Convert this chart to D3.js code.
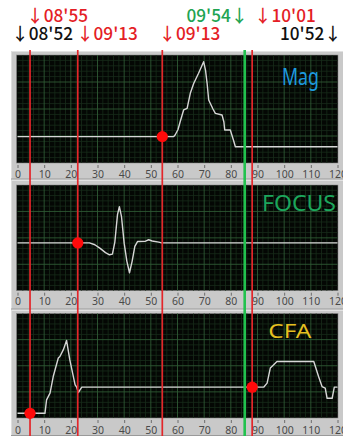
<!DOCTYPE html>
<html>
<head>
<meta charset="utf-8">
<script src="https://cdn.jsdelivr.net/npm/d3@7"></script>
<style>
  html, body { margin: 0; padding: 0; background: #ffffff; }
  svg { display: block; }
</style>
</head>
<body>
<svg id="chart" width="343" height="436"></svg>
<script>
// Time axis shared by all three strips
const xTicks = [0, 10, 20, 30, 40, 50, 60, 70, 80, 90, 100, 110, 120];

// Signal traces: [time, level] with level on a 0–100 strip scale
const magData = [
  [0, 24.4], [58.5, 24.4], [59.1, 25.9], [60.2, 31], [61.0, 38.2], [62.3, 49.1], [63.6, 50.6],
  [64.8, 64.5], [66.1, 73.8], [67.9, 83.1], [69.8, 93.8], [70.5, 86], [71.1, 73.8],
  [71.7, 58.3], [73.3, 50], [74.2, 46.0], [76.7, 44.4], [77.4, 38], [77.7, 30.6],
  [79.8, 30.6], [81.0, 21], [81.7, 15.1], [120, 15.1]
];
const focusData = [
  [0, 45.2], [27, 45.2], [29, 43.5], [31, 40], [33, 36], [34.5, 34], [35.6, 34.6],
  [36.5, 46], [37.5, 72], [38.2, 79.5], [39, 70], [40, 45], [41, 28], [42, 17],
  [43, 28], [44, 42], [45, 46.5], [48, 46.8], [49.2, 48.2], [50.5, 47], [53, 46],
  [54, 45.2], [120, 45.2]
];
const cfaData = [
  [0, 4.5], [10.3, 4.5], [10.9, 17.3], [12.2, 23.8], [13.4, 39.7], [15.3, 57.4],
  [15.9, 58.9], [17.2, 65.4], [18.4, 74.3], [19.6, 55.8], [21.6, 31.7], [22.2, 29.5],
  [22.8, 24.3], [24.1, 29.5], [92.3, 29.5], [93.6, 33.4], [94.8, 47.8], [95.4, 49.3],
  [97.3, 54.1], [111.1, 54.1], [112.9, 39.7], [114.2, 30.1], [115.4, 28.6],
  [116.1, 18.9], [118, 18.9], [118.8, 29.5], [120, 29.5]
];

// Strip titles
const stripNames = ["Mag", "FOCUS", "CFA"];

// Event points marked on the traces: [strip index, time, level]
const eventDots = [[0, 54.3, 24.4], [1, 22.6, 45.2], [2, 4.7, 4.5], [2, 88, 29.5]];

// Event cursors across all strips
const redCursors = [4.7, 22.6, 54.3, 88];
const greenCursors = [85.2];

// Time stamps above the strips: text, time the arrow points at, row
const stampTexts = ["↓08'55", "↓08'52", "↓09'13", "↓09'13", "09'54↓", "↓10'01", "10'52↓"];
const stampAt =    [4.7,      -0.9,     23.4,     54.3,     85.1,     90.1,     120.2];
const stampRow =   [0,        1,        1,        1,        0,        0,        1];
const stampKind =  ["red",    "black",  "red",    "red",    "green",  "red",    "black"];

// ---- layout & styling ----
const W = 343, H = 436;
const plotL = 17.5, plotR = 337.5;
const strips = [
  { boxTop: 51,  boxBottom: 179.5, top: 55,    bottom: 163,   labelY: 178.3, color: "#1d9ade", tw: 37, fs: 24, ty: 85,    tx: 319 },
  { boxTop: 180, boxBottom: 309.5, top: 185,   bottom: 290.7, labelY: 305.5, color: "#1ca65c", tw: 74, fs: 22, ty: 210.5, tx: 336 },
  { boxTop: 310, boxBottom: 436,   top: 313.5, bottom: 418,   labelY: 433.5, color: "#e6c020", tw: 43, fs: 20, ty: 338.3, tx: 311.3 }
];
const colors = { red: "#e41e26", green: "#21a452", black: "#111111" };

const svg = d3.select("#chart");
const x = d3.scaleLinear().domain([0, 120]).range([plotL, plotR]);

const series = [magData, focusData, cfaData];

strips.forEach((s, i) => {
  const y = d3.scaleLinear().domain([0, 100]).range([s.bottom, s.top]);
  s.y = y;
  const g = svg.append("g");

  // gray panel
  g.append("rect")
    .attr("x", 11).attr("y", s.boxTop)
    .attr("width", W - 11).attr("height", s.boxBottom - s.boxTop)
    .attr("fill", "#c9c9c9");
  g.append("line")
    .attr("x1", 11).attr("x2", W).attr("y1", s.boxTop + 0.5).attr("y2", s.boxTop + 0.5)
    .attr("stroke", "#e2e2e2");
  g.append("line")
    .attr("x1", 11.5).attr("x2", 11.5).attr("y1", s.boxTop).attr("y2", s.boxBottom)
    .attr("stroke", "#dedede");
  g.append("line")
    .attr("x1", 11).attr("x2", W).attr("y1", s.boxBottom - 0.5).attr("y2", s.boxBottom - 0.5)
    .attr("stroke", "#9a9a9a");

  // plot area
  g.append("rect")
    .attr("x", x(0) - 1).attr("y", s.top)
    .attr("width", x(120) - x(0) + 1.5).attr("height", s.bottom - s.top)
    .attr("fill", "#040704")
    .attr("stroke", "#8a8a8a").attr("stroke-width", 0.6);

  // minor grid
  const grid = g.append("g");
  grid.selectAll(".vmin").data(d3.range(2, 120, 2).filter(v => v % 10 !== 0))
    .join("line")
    .attr("x1", d => x(d)).attr("x2", d => x(d))
    .attr("y1", s.top).attr("y2", s.bottom)
    .attr("stroke", "#182c1b").attr("stroke-width", 0.8);
  grid.selectAll(".hmin").data(d3.range(5, 100, 5).filter(v => v % 25 !== 0))
    .join("line")
    .attr("x1", x(0)).attr("x2", x(120))
    .attr("y1", d => y(d)).attr("y2", d => y(d))
    .attr("stroke", "#182c1b").attr("stroke-width", 0.8);
  // major grid
  grid.selectAll(".vmaj").data(xTicks.slice(1, -1))
    .join("line")
    .attr("x1", d => x(d)).attr("x2", d => x(d))
    .attr("y1", s.top).attr("y2", s.bottom)
    .attr("stroke", "#2f5a34").attr("stroke-width", 0.9);
  grid.selectAll(".hmaj").data([25, 50, 75])
    .join("line")
    .attr("x1", x(0)).attr("x2", x(120))
    .attr("y1", d => y(d)).attr("y2", d => y(d))
    .attr("stroke", "#2f5a34").attr("stroke-width", 0.9);

  // axis ticks and labels
  const axis = d3.axisBottom(x).tickValues(xTicks).tickSize(3).tickPadding(2);
  const ax = g.append("g").attr("transform", `translate(0,${s.bottom + 2})`).call(axis);
  ax.select(".domain").remove();
  ax.selectAll(".tick line").attr("stroke", "#555").attr("stroke-width", 0.8);
  ax.selectAll(".tick text")
    .attr("fill", "#4a4a4a")
    .attr("font-family", "'Noto Sans', sans-serif")
    .attr("font-size", 10.5)
    .attr("dy", null)
    .attr("y", s.labelY - s.bottom - 2);

  // trace
  const line = d3.line().x(d => x(d[0])).y(d => y(d[1]));
  g.append("path")
    .datum(series[i])
    .attr("d", line)
    .attr("fill", "none")
    .attr("stroke", "#d6d6d6")
    .attr("stroke-width", 1.4)
    .attr("stroke-linejoin", "round");

  // strip title
  g.append("text")
    .attr("x", s.tx).attr("y", s.ty)
    .attr("text-anchor", "end")
    .attr("font-family", "'Noto Sans', sans-serif")
    .attr("font-size", s.fs)
    .attr("textLength", s.tw)
    .attr("lengthAdjust", "spacingAndGlyphs")
    .attr("fill", s.color)
    .text(stripNames[i]);
});

// cursors spanning all strips
const cursorTop = 50, cursorBottom = H;
svg.append("g").selectAll("line").data(greenCursors).join("line")
  .attr("x1", d => x(d)).attr("x2", d => x(d))
  .attr("y1", cursorTop).attr("y2", cursorBottom)
  .attr("stroke", "#22c24e").attr("stroke-width", 2.6);
svg.append("g").selectAll("line").data(redCursors).join("line")
  .attr("x1", d => x(d)).attr("x2", d => x(d))
  .attr("y1", cursorTop).attr("y2", cursorBottom)
  .attr("stroke", "#e3262a").attr("stroke-width", 1.7);

// event dots
svg.append("g").selectAll("circle").data(eventDots).join("circle")
  .attr("cx", d => x(d[1]))
  .attr("cy", d => strips[d[0]].y(d[2]))
  .attr("r", 5.6)
  .attr("fill", "#ff0a0a");

// time stamps
const rowBase = [21.5, 40];
svg.append("g").selectAll("text").data(stampTexts).join("text")
  .attr("x", (d, i) => d.startsWith("↓") ? x(stampAt[i]) - 3.5 : x(stampAt[i]) + 3.5)
  .attr("y", (d, i) => rowBase[stampRow[i]])
  .attr("text-anchor", d => d.startsWith("↓") ? "start" : "end")
  .attr("font-family", "'Noto Sans CJK JP', 'Noto Sans', sans-serif")
  .attr("font-weight", 500)
  .attr("font-size", 17.5)
  .attr("textLength", 61.5)
  .attr("lengthAdjust", "spacingAndGlyphs")
  .attr("fill", (d, i) => colors[stampKind[i]])
  .text(d => d);
</script>
</body>
</html>
